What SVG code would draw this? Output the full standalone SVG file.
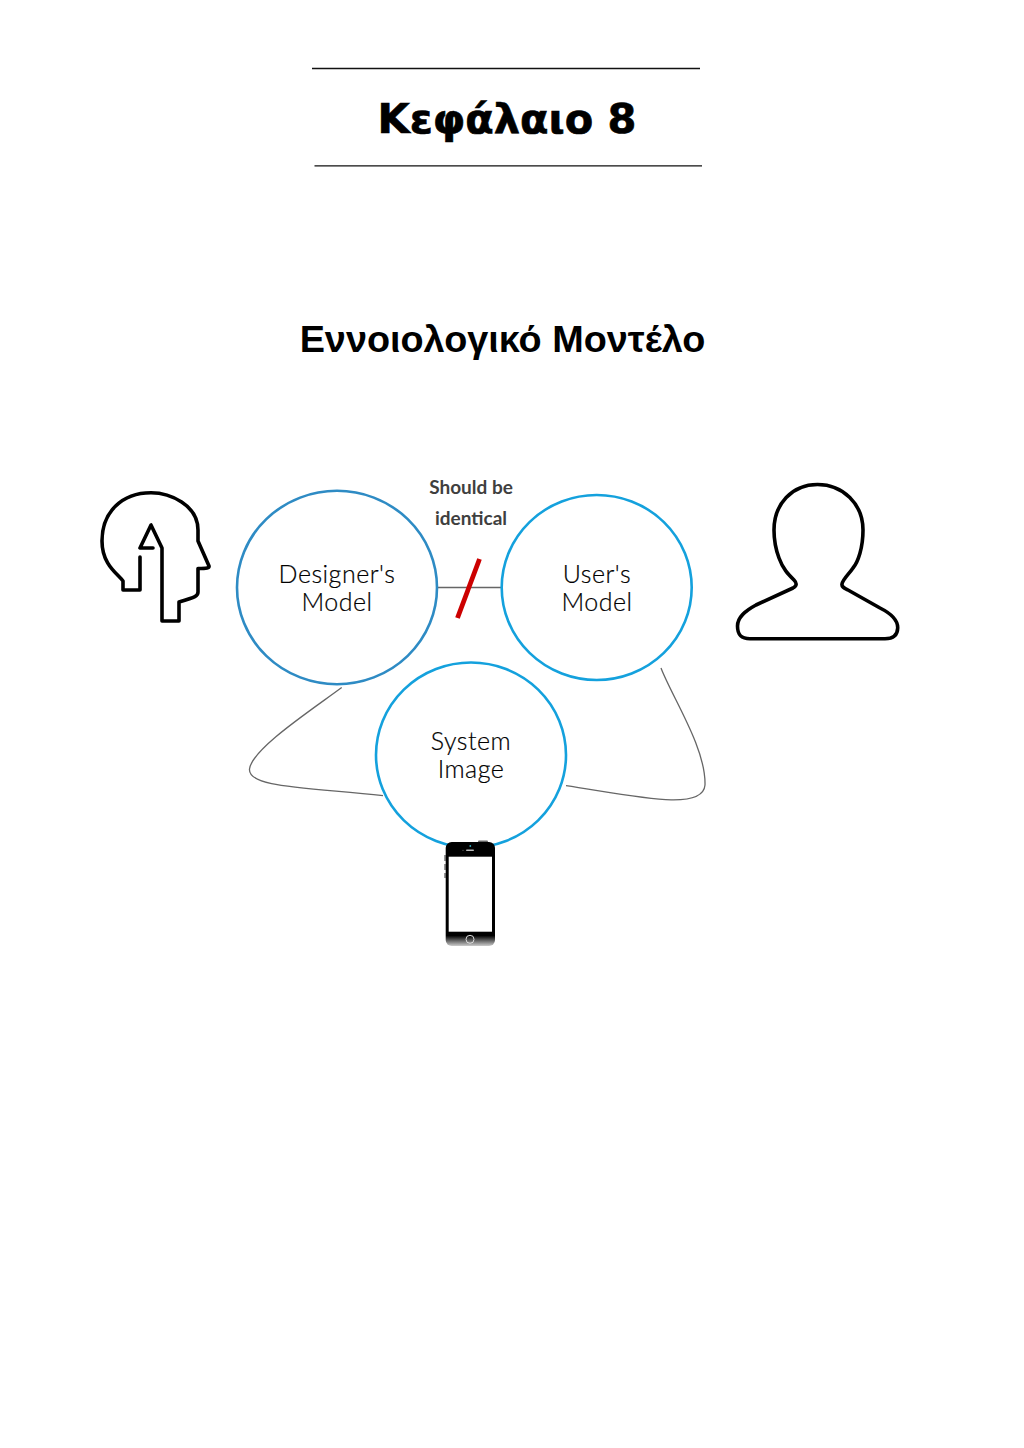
<svg xmlns="http://www.w3.org/2000/svg" width="1024" height="1448" viewBox="0 0 1024 1448">
<style>
.title{font-family:"DejaVu Sans",sans-serif;font-weight:700;font-size:41.500px;fill:#000;stroke:#000;stroke-width:0.700;text-anchor:middle}
.sub{font-family:"Liberation Sans",Arial,sans-serif;font-weight:700;font-size:37.800px;fill:#000;text-anchor:middle}
.lab{font-family:"Lato","Open Sans",sans-serif;font-weight:300;font-size:25px;letter-spacing:0.500px;fill:#000;stroke:#000;stroke-width:0.200;text-anchor:middle}
.note{font-family:"Lato","Open Sans",sans-serif;font-weight:700;font-size:19px;fill:#3f3f3f;text-anchor:middle}
.rule{stroke:#111;stroke-width:1.300;fill:none}
.c{fill:#fff;stroke:#14a1dd;stroke-width:2.600}
.icon{fill:none;stroke:#000;stroke-width:3.600;stroke-linejoin:round;stroke-linecap:round}
.wire{fill:none;stroke:#666;stroke-width:1.300}
</style>
<defs>
<linearGradient id="ph" x1="0" y1="0" x2="0" y2="1">
<stop offset="0" stop-color="#000"/><stop offset="0.9" stop-color="#000"/><stop offset="1" stop-color="#ccc"/>
</linearGradient>
</defs>
<rect width="1024" height="1448" fill="#fff"/>
<g id="heading">
<line class="rule" x1="312" y1="68.500" x2="700" y2="68.500"/>
<text class="title" x="507" y="133">Κεφάλαιο 8</text>
<line class="rule" x1="314.500" y1="165.800" x2="702" y2="165.800"/>
<text class="sub" x="502.500" y="351.500">Εννοιολογικό Μοντέλο</text>
</g>
<g id="connectors">
<line class="wire" x1="437" y1="587.500" x2="502" y2="587.500"/>
<path class="wire" d="M341.700 687.500C310 711 252 749 249.500 769C248 787 300 787 383 795.700"/>
<path class="wire" d="M661 668C672 697 706 748 705 785C703 812 634 796 566 785.700"/>
<line x1="479.500" y1="559" x2="457.500" y2="618" stroke="#cc0000" stroke-width="4.800"/>
</g>
<g id="designer-icon">
<path class="icon" d="M140 557V590H123V581C118 574 102 565 102 541C102 512 122 492.700 151 492.700C170 492.700 198 505 198 530V541L209 566C209.500 568 207 568.500 198 568.500V592C198 596 196 597 179 602V621H162V548L151 525L140 548H153"/>
</g>
<g id="designers-model">
<ellipse class="c" style="stroke:#2e8bc4" cx="337" cy="587.500" rx="100" ry="96.700"/>
<text class="lab" x="337" y="583">Designer's</text>
<text class="lab" x="337" y="611">Model</text>
</g>
<g id="users-model">
<ellipse class="c" cx="596.700" cy="587.500" rx="95" ry="92.500"/>
<text class="lab" x="597" y="583">User's</text>
<text class="lab" x="597" y="611">Model</text>
</g>
<g id="system-image">
<ellipse class="c" cx="471" cy="755" rx="95" ry="92.500"/>
<text class="lab" x="471" y="750">System</text>
<text class="lab" x="471" y="778">Image</text>
</g>
<g id="note">
<text class="note" x="471" y="494">Should be</text>
<text class="note" x="471" y="525">identical</text>
</g>
<g id="user-icon">
<path class="icon" d="M817.500 484.500C843 484.500 863 504 863 530C863 548 858 562 853 568C849 574 843 579 842 584C841.500 587 844 588 848 590L880 608C888 612 898 618 897.700 628C897.500 635 893 638.700 885 638.700H750C741 638.700 737.500 635 737.500 626C737.500 617 745 611 756 605L793 588C797 586 797 583 794 580C788 574 783 569 779 558C776 550 774 540 774 530C774 504 792 484.500 817.500 484.500Z"/>
</g>
<g id="phone">
<rect x="444" y="855" width="2" height="6" fill="#999"/>
<rect x="444" y="864" width="2" height="6" fill="#999"/>
<rect x="444" y="873" width="2" height="5" fill="#999"/>
<rect x="478" y="840.500" width="10" height="3" rx="1" fill="#666"/>
<rect x="445.700" y="842" width="49.300" height="104" rx="6" fill="url(#ph)"/>
<rect x="448.700" y="856.700" width="43.300" height="75" fill="#fff"/>
<circle cx="470" cy="939.300" r="4" fill="none" stroke="#ddd" stroke-width="1"/>
<rect x="466" y="849.500" width="8" height="1.600" rx="0.800" fill="#bbb"/>
<circle cx="470.300" cy="846" r="0.900" fill="#3ab"/>
<circle cx="463" cy="850.300" r="0.500" fill="#888"/>
</g>
</svg>
